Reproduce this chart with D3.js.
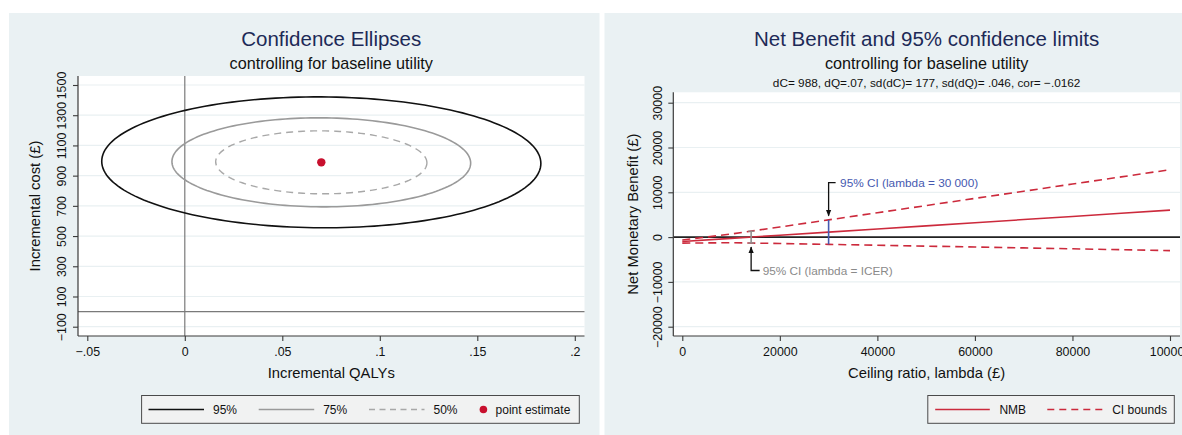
<!DOCTYPE html>
<html>
<head>
<meta charset="utf-8">
<script src="https://cdn.jsdelivr.net/npm/d3@7"></script>
<style>
  html, body { margin: 0; padding: 0; background: #ffffff; }
  svg { display: block; font-family: "Liberation Sans", Arial, Helvetica, sans-serif; }
</style>
</head>
<body>
<svg id="chart" width="1182" height="435"></svg>
<script>
// ---------------- DATA ----------------
// Left chart: confidence ellipses around the point estimate
const pointEstimate = { dQ: 0.07, dC: 988 };
const sdQ = 0.046;
const sdC = 177;
const corQC = -0.0162;
const ellipseLevels = [0.95, 0.75, 0.50];
const ellipseLabels = ["95%", "75%", "50%"];
const pointLabel = "point estimate";
const leftXTicks = [-0.05, 0, 0.05, 0.1, 0.15, 0.2];
const leftXTickLabels = ["\u2212.05", "0", ".05", ".1", ".15", ".2"];
const leftYTicks = [-100, 100, 300, 500, 700, 900, 1100, 1300, 1500];
const leftYTickLabels = ["\u2212100", "100", "300", "500", "700", "900", "1100", "1300", "1500"];

// Right chart: net monetary benefit and 95% CI bounds
const lambdas   = [0, 10000, 20000, 30000, 40000, 50000, 60000, 70000, 80000, 90000, 100000];
const nmb       = [-988, -288, 412, 1112, 1812, 2512, 3212, 3912, 4612, 5312, 6012];
const ciUpper   = [-641, 683, 2254, 3845, 5441, 7039, 8638, 10238, 11839, 13439, 15040];
const ciLower   = [-1335, -1259, -1430, -1621, -1817, -2015, -2214, -2414, -2615, -2815, -3016];
const annotLambda = [30000, 14114];
const annotLower  = [-1621, -1324];
const annotUpper  = [3845, 1324];
const annotLabels = ["95% CI (lambda = 30 000)", "95% CI (lambda = ICER)"];
const rightXTicks = [0, 20000, 40000, 60000, 80000, 100000];
const rightXTickLabels = ["0", "20000", "40000", "60000", "80000", "100000"];
const rightYTicks = [-20000, -10000, 0, 10000, 20000, 30000];
const rightYTickLabels = ["\u221220000", "\u221210000", "0", "10000", "20000", "30000"];
const rightLegendLabels = ["NMB", "CI bounds"];
const infoLine = "dC= 988, dQ=.07, sd(dC)= 177, sd(dQ)= .046, cor= \u2212.0162";

// ---------------- STYLE ----------------
const BG = "#eaf1f3";
const GRID = "#e9f0f2";
const AXIS = "#3a3a3a";
const TITLE = "#1d2a57";
const RED = "#cc2a3c";
const BLUE = "#4659b0";
const GRAY_ANN = "#8a8a8a";

const svg = d3.select("#chart");
const defs = svg.append("defs");
defs.append("marker").attr("id", "arrow").attr("viewBox", "0 0 10 10")
  .attr("refX", 9).attr("refY", 5).attr("markerWidth", 5).attr("markerHeight", 5)
  .attr("orient", "auto-start-reverse")
  .append("path").attr("d", "M0,1 L10,5 L0,9 z").attr("fill", "#111");

// Panels
svg.append("rect").attr("x", 9).attr("y", 13).attr("width", 590.5).attr("height", 422).attr("fill", BG);
svg.append("rect").attr("x", 604.5).attr("y", 13).attr("width", 578).attr("height", 422).attr("fill", BG);

function titles(cx, title, sub, info) {
  svg.append("text").attr("x", cx).attr("y", 46).attr("text-anchor", "middle")
    .attr("font-size", 20.5).attr("fill", TITLE).text(title);
  svg.append("text").attr("x", cx).attr("y", 68.5).attr("text-anchor", "middle")
    .attr("font-size", 16.2).attr("fill", "#111").text(sub);
  if (info) svg.append("text").attr("x", cx).attr("y", 87).attr("text-anchor", "middle")
    .attr("font-size", 11.8).attr("fill", "#111").text(info);
}

// ================= LEFT CHART =================
const L = { left: 78, right: 584.5, top: 76, bottom: 336 };
const xL = d3.scaleLinear().domain([-0.05, 0.2]).range([87.3, 574.8]);
const yL = d3.scaleLinear().domain([-100, 1500]).range([326.7, 85]);

titles((L.left + L.right) / 2, "Confidence Ellipses", "controlling for baseline utility", null);

svg.append("rect").attr("x", L.left).attr("y", L.top).attr("width", L.right - L.left)
  .attr("height", L.bottom - L.top).attr("fill", "#fff");
defs.append("clipPath").attr("id", "clipL").append("rect").attr("x", L.left).attr("y", L.top)
  .attr("width", L.right - L.left).attr("height", L.bottom - L.top);

const gL = svg.append("g");
gL.selectAll(".gridL").data(leftYTicks).join("line")
  .attr("x1", L.left).attr("x2", L.right).attr("y1", d => yL(d)).attr("y2", d => yL(d))
  .attr("stroke", GRID).attr("stroke-width", 1.2);

// reference lines
gL.append("line").attr("x1", xL(0)).attr("x2", xL(0)).attr("y1", L.top).attr("y2", L.bottom)
  .attr("stroke", "#7a7a7a").attr("stroke-width", 1.2);
gL.append("line").attr("x1", L.left).attr("x2", L.right).attr("y1", yL(0)).attr("y2", yL(0))
  .attr("stroke", "#7a7a7a").attr("stroke-width", 1.2);

// ellipses
const ellipseStyles = [
  { stroke: "#111", dash: null, width: 1.6 },
  { stroke: "#9a9a9a", dash: null, width: 1.6 },
  { stroke: "#a8a8a8", dash: "7,5", width: 1.4 }
];
const angles = d3.range(0, 361, 2).map(a => a * Math.PI / 180);
const ellLine = d3.line().x(d => xL(d[0])).y(d => yL(d[1])).curve(d3.curveLinearClosed);
ellipseLevels.forEach((p, i) => {
  const k = Math.sqrt(-2 * Math.log(1 - p));
  const pts = angles.slice(0, -1).map(t => [
    pointEstimate.dQ + k * sdQ * Math.cos(t),
    pointEstimate.dC + k * sdC * (corQC * Math.cos(t) + Math.sqrt(1 - corQC * corQC) * Math.sin(t))
  ]);
  gL.append("path").attr("d", ellLine(pts)).attr("fill", "none")
    .attr("stroke", ellipseStyles[i].stroke).attr("stroke-width", ellipseStyles[i].width)
    .attr("stroke-dasharray", ellipseStyles[i].dash).attr("clip-path", "url(#clipL)");
});
gL.append("circle").attr("cx", xL(pointEstimate.dQ)).attr("cy", yL(pointEstimate.dC))
  .attr("r", 4.2).attr("fill", "#c8102e");

// axes
const axLx = svg.append("g").attr("transform", `translate(0,${L.bottom})`)
  .call(d3.axisBottom(xL).tickValues(leftXTicks).tickFormat((d, i) => leftXTickLabels[i]).tickSize(5).tickSizeOuter(0));
axLx.select(".domain").attr("d", `M${L.left},0H${L.right}`);
const axLy = svg.append("g").attr("transform", `translate(${L.left},0)`)
  .call(d3.axisLeft(yL).tickValues(leftYTicks).tickFormat((d, i) => leftYTickLabels[i]).tickSize(5).tickSizeOuter(0));
axLy.select(".domain").attr("d", `M0,${L.top}V${L.bottom}`);

function styleAxes(axX, axY, yLabelX) {
  [axX, axY].forEach(a => {
    a.select(".domain").attr("stroke", AXIS).attr("stroke-width", 1.2);
    a.selectAll(".tick line").attr("stroke", AXIS).attr("stroke-width", 1.1);
    a.selectAll("text").attr("font-family", "Liberation Sans, Arial, sans-serif")
      .attr("font-size", 12.4).attr("fill", "#111");
  });
  axX.selectAll(".tick text").attr("y", 0).attr("dy", 0).attr("transform", "translate(0,20)");
  axY.selectAll(".tick text").attr("x", 0).attr("dy", 0).attr("text-anchor", "middle")
    .attr("transform", `translate(${yLabelX},0) rotate(-90)`);
}
styleAxes(axLx, axLy, 65.7 - L.left);

svg.append("text").attr("x", (L.left + L.right) / 2).attr("y", 378).attr("text-anchor", "middle")
  .attr("font-size", 14.8).attr("fill", "#111").text("Incremental QALYs");
svg.append("text").attr("transform", `translate(39.5,${(L.top + L.bottom) / 2}) rotate(-90)`)
  .attr("text-anchor", "middle").attr("font-size", 14.8).attr("fill", "#111").text("Incremental cost (\u00a3)");

// left legend
const lgL = svg.append("g");
lgL.append("rect").attr("x", 141.6).attr("y", 395.5).attr("width", 437.7).attr("height", 27.8)
  .attr("fill", "#f1f2f2").attr("stroke", "#4a4a4a").attr("stroke-width", 1);
const lgLineX = [148.5, 258.7, 369];
ellipseLabels.forEach((lab, i) => {
  lgL.append("line").attr("x1", lgLineX[i]).attr("x2", lgLineX[i] + 55.5).attr("y1", 409.5).attr("y2", 409.5)
    .attr("stroke", ellipseStyles[i].stroke).attr("stroke-width", ellipseStyles[i].width)
    .attr("stroke-dasharray", ellipseStyles[i].dash ? "6,4.5" : null);
  lgL.append("text").attr("x", lgLineX[i] + 64.5).attr("y", 413.5).attr("font-size", 12)
    .attr("fill", "#111").text(lab);
});
lgL.append("circle").attr("cx", 483.4).attr("cy", 409.5).attr("r", 3.8).attr("fill", "#c8102e");
lgL.append("text").attr("x", 495.6).attr("y", 413.5).attr("font-size", 12).attr("fill", "#111").text(pointLabel);

// ================= RIGHT CHART =================
const R = { left: 673.3, right: 1180, top: 92.3, bottom: 336 };
const xR = d3.scaleLinear().domain([0, 100000]).range([682.3, 1170]);
const yR = d3.scaleLinear().domain([-20000, 30000]).range([326.7, 102.7]);

titles((R.left + R.right) / 2, "Net Benefit and 95% confidence limits", "controlling for baseline utility", infoLine);

svg.append("rect").attr("x", R.left).attr("y", R.top).attr("width", R.right - R.left)
  .attr("height", R.bottom - R.top).attr("fill", "#fff");
const gR = svg.append("g");
gR.selectAll(".gridR").data(rightYTicks).join("line")
  .attr("x1", R.left).attr("x2", R.right).attr("y1", d => yR(d)).attr("y2", d => yR(d))
  .attr("stroke", GRID).attr("stroke-width", 1.2);
gR.append("line").attr("x1", R.left).attr("x2", R.right).attr("y1", yR(0)).attr("y2", yR(0))
  .attr("stroke", "#222").attr("stroke-width", 1.6);

const lineR = d3.line().x((d, i) => xR(lambdas[i])).y(d => yR(d));
gR.append("path").attr("d", lineR(ciUpper)).attr("fill", "none").attr("stroke", RED)
  .attr("stroke-width", 1.6).attr("stroke-dasharray", "8,5");
gR.append("path").attr("d", lineR(ciLower)).attr("fill", "none").attr("stroke", RED)
  .attr("stroke-width", 1.6).attr("stroke-dasharray", "8,5");
gR.append("path").attr("d", lineR(nmb)).attr("fill", "none").attr("stroke", RED).attr("stroke-width", 1.6);

// CI segments
const segColors = [BLUE, "#8f8f8f"];
annotLambda.forEach((lam, i) => {
  const x = xR(lam);
  gR.append("line").attr("x1", x).attr("x2", x).attr("y1", yR(annotUpper[i])).attr("y2", yR(annotLower[i]))
    .attr("stroke", segColors[i]).attr("stroke-width", 1.6);
  if (i === 1) {
    [annotUpper[i], annotLower[i]].forEach(v => {
      gR.append("line").attr("x1", x - 3).attr("x2", x + 3).attr("y1", yR(v)).attr("y2", yR(v))
        .attr("stroke", segColors[i]).attr("stroke-width", 1.2);
    });
  }
});

// annotations with elbow arrows
{
  const x = xR(annotLambda[0]);
  gR.append("path").attr("d", `M${x + 7},182.7 H${x} V${yR(annotUpper[0]) - 4}`)
    .attr("fill", "none").attr("stroke", "#111").attr("stroke-width", 1.3).attr("marker-end", "url(#arrow)");
  gR.append("text").attr("x", x + 11.5).attr("y", 187).attr("font-size", 11.8).attr("fill", BLUE).text(annotLabels[0]);
}
{
  const x = xR(annotLambda[1]);
  gR.append("path").attr("d", `M${x + 8.5},270.5 H${x} V${yR(annotLower[1]) + 4}`)
    .attr("fill", "none").attr("stroke", "#111").attr("stroke-width", 1.3).attr("marker-end", "url(#arrow)");
  gR.append("text").attr("x", x + 11.5).attr("y", 275).attr("font-size", 11.8).attr("fill", GRAY_ANN).text(annotLabels[1]);
}

const axRx = svg.append("g").attr("transform", `translate(0,${R.bottom})`)
  .call(d3.axisBottom(xR).tickValues(rightXTicks).tickFormat((d, i) => rightXTickLabels[i]).tickSize(5).tickSizeOuter(0));
axRx.select(".domain").attr("d", `M${R.left},0H${R.right}`);
const axRy = svg.append("g").attr("transform", `translate(${R.left},0)`)
  .call(d3.axisLeft(yR).tickValues(rightYTicks).tickFormat((d, i) => rightYTickLabels[i]).tickSize(5).tickSizeOuter(0));
axRy.select(".domain").attr("d", `M0,${R.top}V${R.bottom}`);
styleAxes(axRx, axRy, 662 - R.left);

svg.append("text").attr("x", (R.left + R.right) / 2).attr("y", 378).attr("text-anchor", "middle")
  .attr("font-size", 14.8).attr("fill", "#111").text("Ceiling ratio, lambda (\u00a3)");
svg.append("text").attr("transform", `translate(638,${(R.top + R.bottom) / 2}) rotate(-90)`)
  .attr("text-anchor", "middle").attr("font-size", 14.8).attr("fill", "#111").text("Net Monetary Benefit (\u00a3)");

// right legend
const lgR = svg.append("g");
lgR.append("rect").attr("x", 927.8).attr("y", 395.5).attr("width", 246.5).attr("height", 27.8)
  .attr("fill", "#f1f2f2").attr("stroke", "#4a4a4a").attr("stroke-width", 1);
lgR.append("line").attr("x1", 935.2).attr("x2", 989.8).attr("y1", 409.5).attr("y2", 409.5)
  .attr("stroke", RED).attr("stroke-width", 1.6);
lgR.append("text").attr("x", 999.4).attr("y", 413.5).attr("font-size", 12).attr("fill", "#111").text(rightLegendLabels[0]);
lgR.append("line").attr("x1", 1047.3).attr("x2", 1103.7).attr("y1", 409.5).attr("y2", 409.5)
  .attr("stroke", RED).attr("stroke-width", 1.6).attr("stroke-dasharray", "7,5");
lgR.append("text").attr("x", 1112.2).attr("y", 413.5).attr("font-size", 12).attr("fill", "#111").text(rightLegendLabels[1]);
</script>
</body>
</html>
